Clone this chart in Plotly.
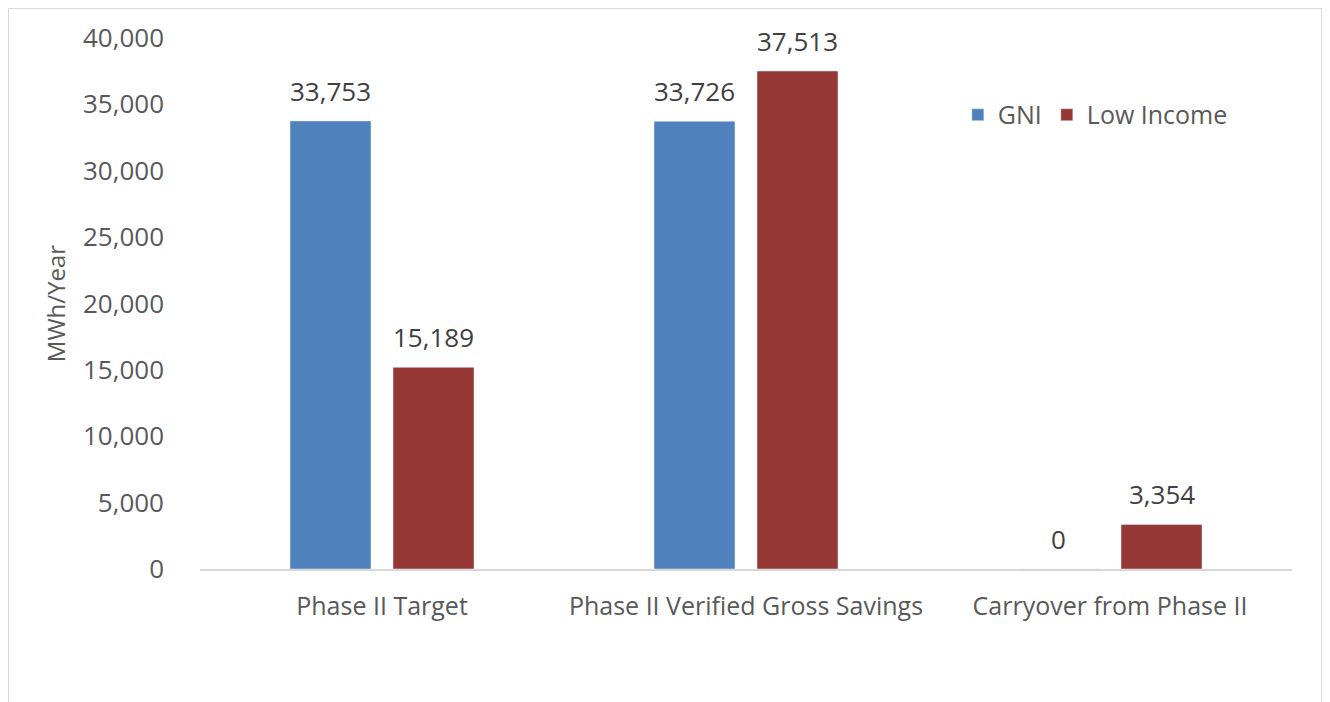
import plotly.graph_objects as go

categories = ["Phase II Target", "Phase II Verified Gross Savings", "Carryover from Phase II"]
gni = [33753, 33726, 0]
low_income = [15189, 37513, 3354]
y_ticks = [0, 5000, 10000, 15000, 20000, 25000, 30000, 35000, 40000]

FONT = "Open Sans"
TXT = "#595959"
LBL = "#404040"
# page has an 8px body margin, so the figure is made 8px smaller
W, H = 1322, 694
L, R, T, B = 192, 38, 30, 133
pw = W - L - R
ph = H - T - B

fig = go.Figure()
fig.add_bar(name="GNI", x=categories, y=gni, marker_color="#4F81BD")
fig.add_bar(name="Low Income", x=categories, y=low_income, marker_color="#953735")

# data labels above each bar (grouped offset of half a bar slot)
slot_px = pw / 3 * (1 - 0.434) / 2
for vals, sh in ((gni, -slot_px / 2), (low_income, slot_px / 2)):
    for c, v in zip(categories, vals):
        fig.add_annotation(x=c, y=v, text=f"{v:,}", showarrow=False,
                           xanchor="center", yanchor="bottom", xshift=sh, yshift=10,
                           font=dict(size=26, color=LBL, family=FONT))

fig.update_layout(
    width=W, height=H,
    margin=dict(l=L, r=R, t=T, b=B),
    paper_bgcolor="white", plot_bgcolor="white",
    barmode="group", bargap=0.434, bargroupgap=0.214,
    font=dict(family=FONT, color=TXT, size=25),
    legend=dict(orientation="h", x=0.694, y=0.855, xanchor="left", yanchor="middle",
                font=dict(size=25, color=TXT, family=FONT), itemwidth=30,
                traceorder="normal", bgcolor="rgba(0,0,0,0)"),
    xaxis=dict(showline=True, linecolor="#d9d9d9", linewidth=1.5, ticks="",
               ticklabelstandoff=14,
               tickfont=dict(size=25, color=TXT, family=FONT), showgrid=False),
    yaxis=dict(range=[0, 40000], tickvals=y_ticks, tickformat=",d",
               showgrid=False, zeroline=False, showline=False, ticks="",
               ticklabelstandoff=35,
               tickfont=dict(size=26, color=TXT, family=FONT),
               title=dict(text="MWh/Year", font=dict(size=24, color=TXT, family=FONT), standoff=10)),
)

fig.add_shape(type="rect", xref="paper", yref="paper",
              x0=(0 - L) / pw, x1=(1314 - L) / pw,
              y0=-0.4, y1=(H - B - 0) / ph,
              line=dict(color="#d9d9d9", width=2), fillcolor="rgba(0,0,0,0)", layer="below")

fig.write_html("out.html")
